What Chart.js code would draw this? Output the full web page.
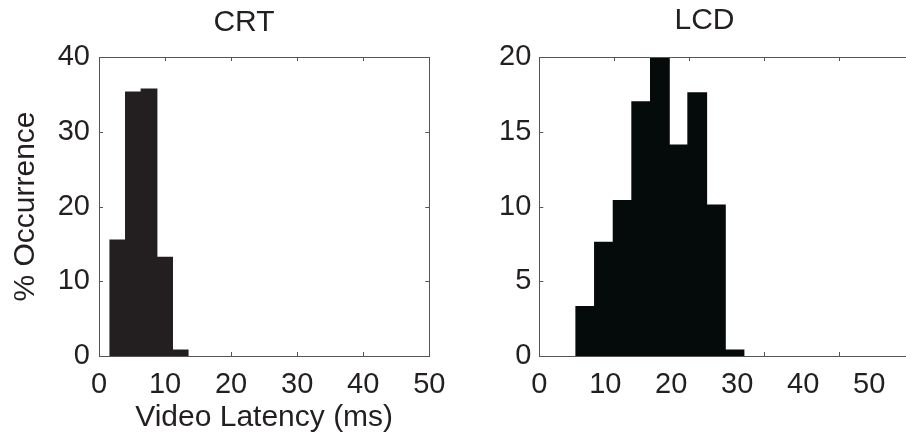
<!DOCTYPE html>
<html><head><meta charset="utf-8">
<script src="https://cdn.jsdelivr.net/npm/chart.js@4.4.0/dist/chart.umd.min.js"></script>
<style>
html,body{margin:0;padding:0;background:#fff;overflow:hidden;width:906px;height:443px;}
canvas{position:absolute;top:0;}
#c1{left:0;}
#c2{left:460px;}
</style></head><body>
<canvas id="c1" width="488" height="443"></canvas>
<canvas id="c2" width="489" height="443"></canvas>
<script>
// ---- data ----
const crtBinCenters = [2.85, 5.21, 7.57, 9.93, 12.29];
const crtPercent = [15.5, 35.3, 35.7, 13.2, 0.8];
const lcdBinCenters = [6.97, 9.80, 12.63, 15.45, 18.28, 21.11, 23.94, 26.77, 29.59];
const lcdPercent = [3.3, 7.6, 10.4, 17.0, 19.9, 14.1, 17.6, 10.1, 0.4];
const xTickValues = [0, 10, 20, 30, 40, 50];
// the LCD panel's tick marks do not sit under its labels in the original figure
const lcdXTickMarks = [0, 11.36, 22.73, 34.09, 45.45];
const crtYTicks = [0, 10, 20, 30, 40];
const lcdYTicks = [0, 5, 10, 15, 20];
const panelTitles = ['CRT', 'LCD'];
const xAxisTitle = 'Video Latency (ms)';
const yAxisTitle = '% Occurrence';

// ---- style ----
const FONT = "'Liberation Sans', Arial, Helvetica, sans-serif";
const TEXT = '#231f20';
const FRAME = '#555';
const TICKLEN = 4;

const framePlugin = {
  id: 'frame',
  beforeDatasetsDraw(chart, args, opts) {
    const {ctx, chartArea: a, scales} = chart;
    ctx.save();
    ctx.strokeStyle = FRAME;
    ctx.lineWidth = 1;
    ctx.beginPath();
    const xMarks = opts.xMarks || scales.x.ticks.map(t => t.value);
    xMarks.forEach(v => {
      const px = Math.round(scales.x.getPixelForValue(v)) + 0.5;
      ctx.moveTo(px, a.bottom); ctx.lineTo(px, a.bottom - TICKLEN);
      ctx.moveTo(px, a.top); ctx.lineTo(px, a.top + TICKLEN);
    });
    scales.y.ticks.forEach(t => {
      const py = Math.round(scales.y.getPixelForValue(t.value)) + 0.5;
      ctx.moveTo(a.left, py); ctx.lineTo(a.left + TICKLEN, py);
      ctx.moveTo(a.right, py); ctx.lineTo(a.right - TICKLEN, py);
    });
    ctx.stroke();
    ctx.restore();
  },
  afterDatasetsDraw(chart) {
    const {ctx, chartArea: a} = chart;
    ctx.save();
    ctx.strokeStyle = FRAME;
    ctx.lineWidth = 1;
    ctx.strokeRect(Math.round(a.left) + 0.5, Math.round(a.top) + 0.5,
                   Math.round(a.right - a.left), Math.round(a.bottom - a.top));
    ctx.restore();
  }
};

function makePanel(canvasId, cfg) {
  return new Chart(document.getElementById(canvasId), {
    type: 'bar',
    data: {
      datasets: [{
        data: cfg.centers.map((x, i) => ({x: x, y: cfg.values[i]})),
        backgroundColor: cfg.color,
        borderWidth: 0,
        inflateAmount: 0.6,
        barPercentage: 1,
        categoryPercentage: 1
      }]
    },
    options: {
      responsive: false,
      animation: false,
      events: [],
      layout: {padding: 0},
      plugins: {
        legend: {display: false},
        tooltip: {enabled: false},
        frame: {xMarks: cfg.xMarks},
        title: {
          display: true,
          text: cfg.title,
          color: TEXT,
          font: {family: FONT, size: 30, weight: 'normal', lineHeight: 1.2},
          padding: cfg.titlePad
        }
      },
      scales: {
        x: {
          type: 'linear',
          offset: false,
          min: 0,
          max: cfg.xMax,
          grid: {display: false, drawTicks: false},
          border: {display: false},
          afterBuildTicks: s => { s.ticks = xTickValues.map(v => ({value: v})); },
          afterFit: s => { s.height = 87; },
          ticks: {
            color: TEXT, padding: 12, maxRotation: 0, autoSkip: false,
            font: {family: FONT, size: 29}
          },
          title: {
            display: cfg.showXTitle,
            text: xAxisTitle,
            color: TEXT,
            font: {family: FONT, size: 30, lineHeight: 1.2},
            padding: {top: 0, bottom: 7}
          }
        },
        y: {
          type: 'linear',
          min: 0,
          max: cfg.yTicks[cfg.yTicks.length - 1],
          grid: {display: false, drawTicks: false},
          border: {display: false},
          afterBuildTicks: s => { s.ticks = cfg.yTicks.map(v => ({value: v})); },
          afterFit: s => { s.width = cfg.yAxisWidth; },
          ticks: {
            color: TEXT, padding: cfg.yPad,
            font: {family: FONT, size: 29}
          },
          title: {
            display: cfg.showYTitle,
            text: yAxisTitle,
            color: TEXT,
            font: {family: FONT, size: 30, lineHeight: 1.2},
            padding: {top: 8, bottom: 0}
          }
        },
        y2: {
          type: 'linear',
          position: 'right',
          display: true,
          grid: {display: false, drawTicks: false},
          border: {display: false},
          ticks: {display: false},
          afterFit: s => { s.width = cfg.rightGap; }
        }
      }
    },
    plugins: [framePlugin]
  });
}

makePanel('c1', {
  centers: crtBinCenters, values: crtPercent, color: '#231f20',
  title: panelTitles[0], titlePad: {top: 5, bottom: 16},
  xMax: 50, yTicks: crtYTicks, yAxisWidth: 99, yPad: 9, rightGap: 58.7,
  showXTitle: true, showYTitle: true, xMarks: null
});
makePanel('c2', {
  centers: lcdBinCenters, values: lcdPercent, color: '#050a0b',
  title: panelTitles[1], titlePad: {top: 3, bottom: 18},
  xMax: 56.8, yTicks: lcdYTicks, yAxisWidth: 79.3, yPad: 8, rightGap: 35,
  showXTitle: false, showYTitle: false, xMarks: lcdXTickMarks
});
</script>
</body></html>
